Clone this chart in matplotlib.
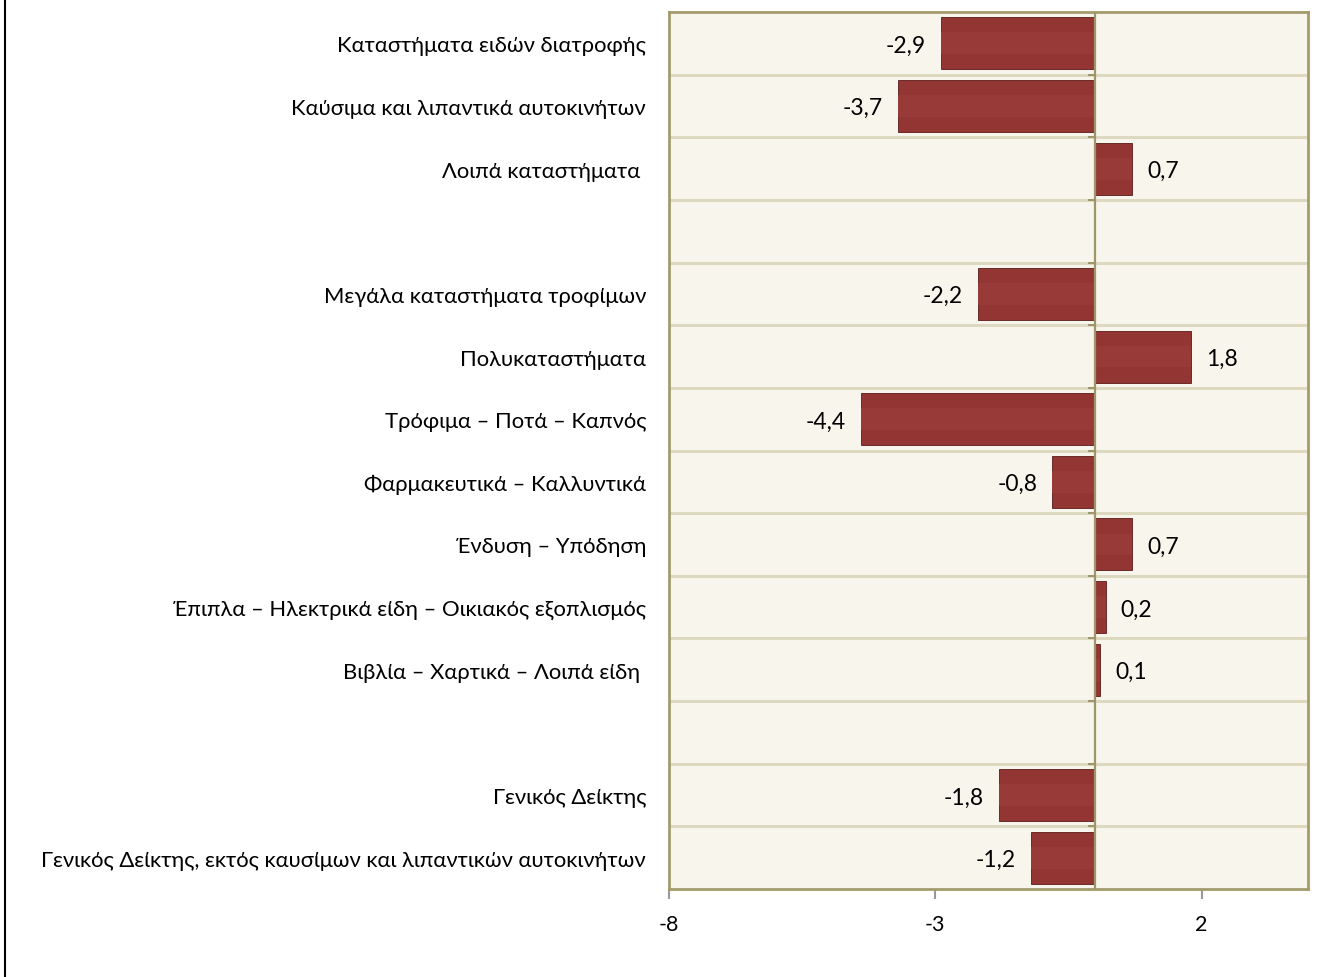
import matplotlib
matplotlib.use("Agg")
import matplotlib.pyplot as plt
import numpy as np
from matplotlib.lines import Line2D

categories = [
    "Καταστήματα ειδών διατροφής",
    "Καύσιμα και λιπαντικά αυτοκινήτων",
    "Λοιπά καταστήματα ",
    "",
    "Μεγάλα καταστήματα τροφίμων",
    "Πολυκαταστήματα",
    "Τρόφιμα – Ποτά – Καπνός",
    "Φαρμακευτικά – Καλλυντικά",
    "Ένδυση – Υπόδηση",
    "Έπιπλα – Ηλεκτρικά είδη – Οικιακός εξοπλισμός",
    "Βιβλία – Χαρτικά – Λοιπά είδη ",
    "",
    "Γενικός Δείκτης",
    "Γενικός Δείκτης, εκτός καυσίμων και λιπαντικών αυτοκινήτων",
]
values = [-2.9, -3.7, 0.7, None, -2.2, 1.8, -4.4, -0.8, 0.7, 0.2, 0.1, None, -1.8, -1.2]
xticks = [-8, -3, 2]

plt.rcParams['font.family'] = ['Lato', 'DejaVu Sans']

fig = plt.figure(figsize=(13.43, 9.78), dpi=100)
W, H = 1343, 978
left, right, top, bottom = 669, 1308, 13, 890
ax = fig.add_axes([left / W, 1 - bottom / H, (right - left) / W, (bottom - top) / H])

n = len(categories)
y = np.arange(n)
ax.set_facecolor('#f8f6ec')
ax.set_xlim(-8, 4)
ax.set_ylim(n - 0.5, -0.5)

# gridlines at row boundaries
for b in np.arange(0.5, n - 0.5, 1):
    ax.axhline(b, color='#ddd8c0', lw=2.2, zorder=1)

for i, v in enumerate(values):
    if v is None:
        continue
    ax.barh(i, v, height=0.83, color='#923533', edgecolor='#5a1a18', linewidth=0.6, zorder=3)
    ax.barh(i, v, height=0.35, color='#983a38', linewidth=0, zorder=3.5)
    lab = f"{v:.1f}".replace('.', ',')
    if v < 0:
        ax.text(v - 0.28, i + 0.03, lab, ha='right', va='center', fontsize=16.5, color='black', zorder=5)
    else:
        ax.text(v + 0.28, i + 0.03, lab, ha='left', va='center', fontsize=16.5, color='black', zorder=5)

# zero line
ax.axvline(0, color='#9e956a', lw=1.6, zorder=4)
for b in np.arange(0.5, n - 0.5, 1):
    ax.plot([-0.12, 0], [b, b], color='#9e956a', lw=1.4, zorder=4, clip_on=False)

for s in ax.spines.values():
    s.set_color('#a49b6c')
    s.set_linewidth(2)

ax.set_yticks(y)
ax.set_yticklabels(categories, fontsize=15.8)
ax.tick_params(axis='y', length=0, pad=16.5)
ax.set_xticks(xticks)
ax.set_xticklabels([str(t) for t in xticks], fontsize=15.5)
ax.tick_params(axis='x', length=7, width=1.5, color='#999999', pad=11)

# figure left border
fig.add_artist(Line2D([5 / W, 5 / W], [0, 1], color='black', lw=1.5))

fig.savefig('out.png', dpi=100)
